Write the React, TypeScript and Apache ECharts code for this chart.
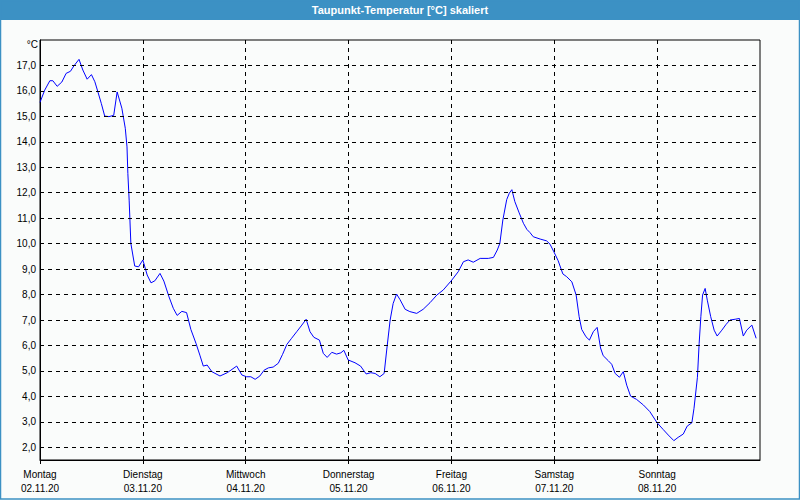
import React, { useEffect, useRef } from "react";
import * as echarts from "echarts";

const titleText = "Taupunkt-Temperatur [°C] skaliert";
const unitLabel = "°C";
const dayNames = ["Montag", "Dienstag", "Mittwoch", "Donnerstag", "Freitag", "Samstag", "Sonntag"];
const dayDates = ["02.11.20", "03.11.20", "04.11.20", "05.11.20", "06.11.20", "07.11.20", "08.11.20"];
const yTicks = [2, 3, 4, 5, 6, 7, 8, 9, 10, 11, 12, 13, 14, 15, 16, 17];
const dayStartHours = [0, 24, 48, 72, 96, 120, 144];

// hours since Monday 00:00
const hours = [
  0, 1.1, 2.3, 3.0, 4.0, 5.1, 6.1, 7.1, 7.9, 9.1, 10.0, 11.0, 12.0, 12.8, 13.5, 14.3, 15.1, 16.1, 17.2, 18.0,
  19.1, 19.9, 20.3, 20.5, 20.8, 21.2, 22.1, 23.0, 24.0, 25.0, 25.9, 26.8, 28.0, 28.9, 30.1, 31.1, 32.0, 33.1,
  34.2, 35.2, 36.4, 37.3, 38.1, 39.0, 40.1, 42.0, 43.7, 45.9, 47.1, 48.2, 49.2, 50.2, 51.3, 52.3, 53.3, 54.4,
  55.6, 56.6, 57.6, 58.7, 59.9, 61.1, 62.1, 63.0, 63.9, 65.2, 66.1, 67.0, 68.1, 69.2, 70.2, 70.9, 71.9, 73.5,
  74.8, 76.1, 77.2, 78.2, 79.3, 80.3, 80.9, 81.7, 82.4, 83.2, 84.0, 85.2, 86.3, 87.9, 89.4, 91.0, 92.6, 94.1,
  96.1, 97.6, 98.8, 99.9, 101.1, 102.7, 104.6, 105.8, 106.7, 107.3, 108.0, 108.9, 109.5, 110.1, 110.8, 111.8,
  112.8, 113.6, 114.3, 115.1, 116.7, 118.2, 119.0, 119.9, 120.9, 122.0, 122.9, 124.1, 125.1, 125.8, 126.4,
  127.4, 128.2, 129.1, 130.0, 130.8, 131.4, 132.6, 133.4, 134.2, 135.2, 136.1, 136.9, 137.8, 139.2, 140.8,
  142.3, 144.0, 145.4, 146.6, 147.9, 148.9, 150.1, 151.0, 152.1, 152.6, 153.4, 153.8, 154.2, 154.6, 155.2,
  155.7, 156.5, 157.3, 158.0, 159.1, 160.1, 161.0, 162.2, 163.2, 164.1, 164.9, 166.1, 167.1,
];
const dewPoint = [
  15.55, 16.03, 16.4, 16.4, 16.18, 16.35, 16.69, 16.77, 16.98, 17.24, 16.82, 16.46, 16.64, 16.36, 15.97, 15.51,
  15.01, 14.99, 15.04, 15.96, 15.32, 14.53, 13.8, 12.76, 11.71, 10.01, 9.12, 9.09, 9.36, 8.77, 8.46, 8.54, 8.83,
  8.53, 7.91, 7.46, 7.18, 7.34, 7.29, 6.63, 6.08, 5.62, 5.19, 5.23, 4.97, 4.8, 4.93, 5.19, 4.84, 4.77, 4.77,
  4.67, 4.8, 5.03, 5.12, 5.15, 5.3, 5.65, 6.04, 6.28, 6.54, 6.8, 7.03, 6.54, 6.32, 6.21, 5.69, 5.53, 5.73, 5.66,
  5.71, 5.81, 5.43, 5.32, 5.19, 4.88, 4.93, 4.9, 4.77, 4.9, 5.82, 7.0, 7.65, 8.02, 7.8, 7.42, 7.33, 7.26, 7.42,
  7.68, 7.98, 8.18, 8.57, 8.9, 9.29, 9.36, 9.27, 9.42, 9.42, 9.46, 9.75, 10.01, 10.93, 11.73, 11.98, 12.12,
  11.65, 11.21, 10.8, 10.56, 10.44, 10.27, 10.18, 10.11, 9.98, 9.68, 9.33, 8.81, 8.7, 8.5, 7.98, 7.13, 6.63,
  6.34, 6.21, 6.54, 6.71, 5.9, 5.6, 5.4, 5.26, 4.9, 4.75, 4.97, 4.44, 4.01, 3.88, 3.66, 3.4, 2.96, 2.7, 2.48,
  2.26, 2.39, 2.52, 2.83, 2.96, 3.53, 4.75, 6.08, 7.13, 7.98, 8.24, 7.78, 7.13, 6.6, 6.37, 6.6, 6.83, 7.0, 7.03,
  7.06, 6.37, 6.6, 6.8, 6.28,
];

const BLUE_FRAME = "#3c91c4";
const BG = "#fafcfb";
const FONT = "Liberation Sans";

export default function App() {
  const ref = useRef<HTMLDivElement>(null);
  useEffect(() => {
    if (!ref.current) return;
    const chart = echarts.init(ref.current, undefined, { renderer: "svg" });
    const dashed = { color: "#000", type: [4, 4] as any, width: 1 };
    chart.setOption({
      animation: false,
      backgroundColor: BG,
      graphic: [
        { type: "rect", shape: { x: 0, y: 0, width: 800, height: 20 }, style: { fill: BLUE_FRAME }, z: 0 },
        {
          type: "rect",
          shape: { x: 0.5, y: 0.5, width: 799, height: 498.5 },
          style: { fill: "none", stroke: BLUE_FRAME, lineWidth: 1.5 },
          z: 0,
        },
        {
          type: "text",
          x: 400,
          y: 9.5,
          style: {
            text: titleText,
            fill: "#fff",
            font: `bold 11px "${FONT}"`,
            textAlign: "center",
            textVerticalAlign: "middle",
          },
        },
        {
          type: "text",
          x: 38,
          y: 44,
          style: {
            text: unitLabel,
            fill: "#000",
            font: `10px "${FONT}"`,
            textAlign: "right",
            textVerticalAlign: "middle",
          },
        },
      ],
      grid: {
        left: 40,
        top: 40,
        width: 720,
        height: 420,
        show: true,
        borderColor: "#000",
        borderWidth: 1,
        backgroundColor: BG,
      },
      xAxis: {
        type: "value",
        min: 0,
        max: 168,
        interval: 24,
        axisLine: { show: true, lineStyle: { color: "#000" } },
        axisTick: {
          show: true,
          length: 4,
          inside: false,
          customValues: dayStartHours,
          lineStyle: { color: "#000" },
        },
        splitLine: { show: true, lineStyle: dashed },
        axisLabel: {
          margin: 7,
          color: "#000",
          fontFamily: FONT,
          fontSize: 10,
          lineHeight: 14.5,
          customValues: dayStartHours,
          formatter: (v: number) => {
            const i = Math.round(v / 24);
            if (i < 0 || i >= dayNames.length) return "";
            return `${dayNames[i]}\n${dayDates[i]}`;
          },
        },
      },
      yAxis: {
        type: "value",
        min: 1.5,
        max: 18,
        axisLine: { show: true, lineStyle: { color: "#000" } },
        axisTick: { show: false },
        splitLine: { show: false },
        axisLabel: {
          margin: 4,
          color: "#000",
          fontFamily: FONT,
          fontSize: 10,
          customValues: yTicks,
          formatter: (v: number) => v.toFixed(1).replace(".", ","),
        },
      },
      series: [
        {
          type: "line",
          data: [],
          z: 1,
          silent: true,
          markLine: {
            silent: true,
            symbol: ["none", "none"],
            label: { show: false },
            lineStyle: dashed,
            emphasis: { disabled: true },
            data: yTicks.map((v) => ({ yAxis: v })),
          },
        },
        {
          type: "line",
          z: 3,
          data: hours.map((h, i) => [h, dewPoint[i]]),
          showSymbol: false,
          symbol: "none",
          lineStyle: { color: "#0000ff", width: 1 },
          itemStyle: { color: "#0000ff" },
        },
      ],
    });
    return () => chart.dispose();
  }, []);
  return (
    <div
      ref={ref}
      style={{ position: "fixed", left: 0, top: 0, width: 800, height: 500 }}
    />
  );
}
